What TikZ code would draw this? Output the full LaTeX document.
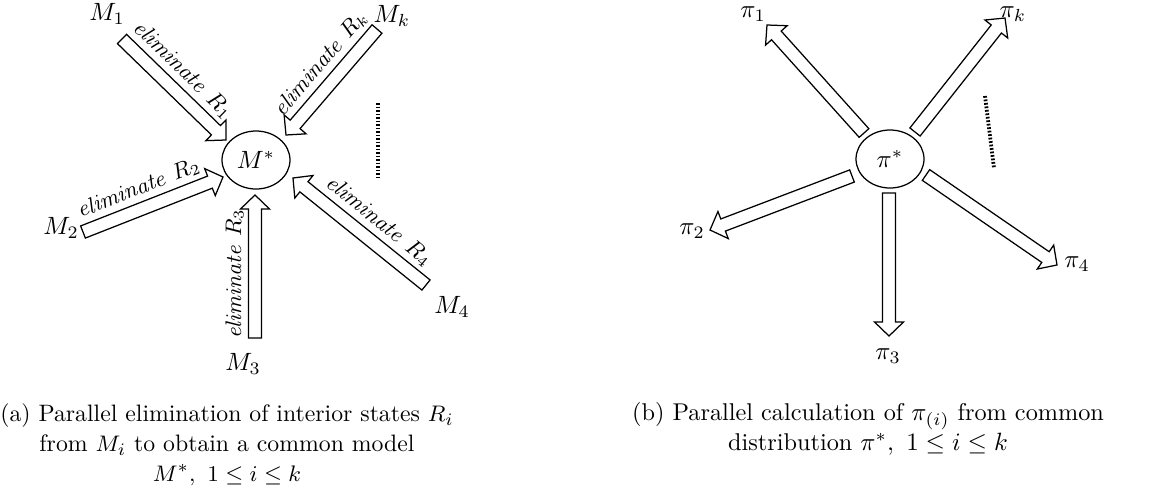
\documentclass[tikz,border=0pt]{standalone}
\usepackage{xcolor}
\usepackage{tikz}
\usetikzlibrary{shapes,arrows,positioning,calc}

% hollow block arrow from tail #1 to tip #2
\newcommand{\fatarrow}[2]{%
  \coordinate (hb) at ($(#2)!5.6pt!(#1)$);
  \draw[fat] ($(#1)!2.6pt!90:(#2)$) -- ($(hb)!2.6pt!90:(#2)$) -- ($(hb)!5.8pt!90:(#2)$)
    -- (#2) -- ($(hb)!5.8pt!-90:(#2)$) -- ($(hb)!2.6pt!-90:(#2)$) -- ($(#1)!2.6pt!-90:(#2)$) -- cycle;
}

\begin{document}
\begin{tikzpicture}[x=0.4pt, y=-0.4pt,
  fat/.style={line width=0.5pt, fill=white},
  hub/.style={draw, ellipse, line width=0.5pt, minimum width=27.2pt, minimum height=23.2pt, inner sep=0pt},
  elim/.style={sloped, anchor=south, yshift=4.4pt, pos=0.45, inner sep=0pt, font=\small},
  lbl/.style={inner sep=0pt},
  dots/.style={line width=1.5pt, dash pattern=on 0.7pt off 0.7pt}]
\useasboundingbox (0,0) rectangle (1173,494);

% ---- (a) elimination ----
\node[hub] (Mstar) at (256,160) {$M^*$};

\node[lbl] (M1) at (107,14) {$M_1$};
\node[lbl] (Mk) at (392,16) {$M_k$};
\node[lbl] (M2) at (61,228) {$M_2$};
\node[lbl] (M3) at (243,364) {$M_3$};
\node[lbl] (M4) at (452,307) {$M_4$};

\coordinate (t1) at (122,39);  \coordinate (h1) at (226,140);
\coordinate (tk) at (377,29);  \coordinate (hk) at (286,135);
\coordinate (t2) at (83,232);  \coordinate (h2) at (223,177);
\coordinate (t3) at (255,338); \coordinate (h3) at (255,195);
\coordinate (t4) at (426,285); \coordinate (h4) at (293,178);

\foreach \t/\h in {t1/h1, tk/hk, t2/h2, t3/h3, t4/h4} {
  \fatarrow{\t}{\h}
}

% labels along the arrows
\path (t1) -- (h1) node[elim] {$\mathit{eliminate}\ R_1$};
\path (tk) -- (hk) node[elim] {$\mathit{eliminate}\ R_k$};
\path (t2) -- (h2) node[elim] {$\mathit{eliminate}\ R_2$};
\path (t3) -- (h3) node[elim] {$\mathit{eliminate}\ R_3$};
\path (t4) -- (h4) node[elim] {$\mathit{eliminate}\ R_4$};

\draw[dots] (378,103) -- (378,177);

\node[align=center, inner sep=0pt, font=\fontsize{9.5}{12}\selectfont] (capa) at (227,445)
  {(a) Parallel elimination of interior states $R_i$\\
   from $M_i$ to obtain a common model\\
   $M^*,\ 1\le i\le k$};

% ---- (b) distribution ----
\node[hub] (pistar) at (890,159) {$\pi^*$};

\node[lbl] (p1) at (753,14) {$\pi_1$};
\node[lbl] (pk) at (1013,14) {$\pi_k$};
\node[lbl] (p2) at (692,231) {$\pi_2$};
\node[lbl] (p3) at (888,356) {$\pi_3$};
\node[lbl] (p4) at (1077,264) {$\pi_4$};

\coordinate (s1) at (864,133); \coordinate (e1) at (767,25);
\coordinate (sk) at (915,132); \coordinate (ek) at (1005,18);
\coordinate (s2) at (852,176); \coordinate (e2) at (710,230);
\coordinate (s3) at (889,193); \coordinate (e3) at (889,336);
\coordinate (s4) at (926,175); \coordinate (e4) at (1057,265);

\foreach \t/\h in {s1/e1, sk/ek, s2/e2, s3/e3, s4/e4} {
  \fatarrow{\t}{\h}
}

\draw[dots] (985,96) -- (994,168);

\node[align=center, inner sep=0pt, font=\fontsize{9.7}{12}\selectfont] (capb) at (868,429)
  {(b) Parallel calculation of $\pi_{(i)}$ from common\\
   distribution $\pi^*,\ 1\le i\le k$};
\end{tikzpicture}
\end{document}
